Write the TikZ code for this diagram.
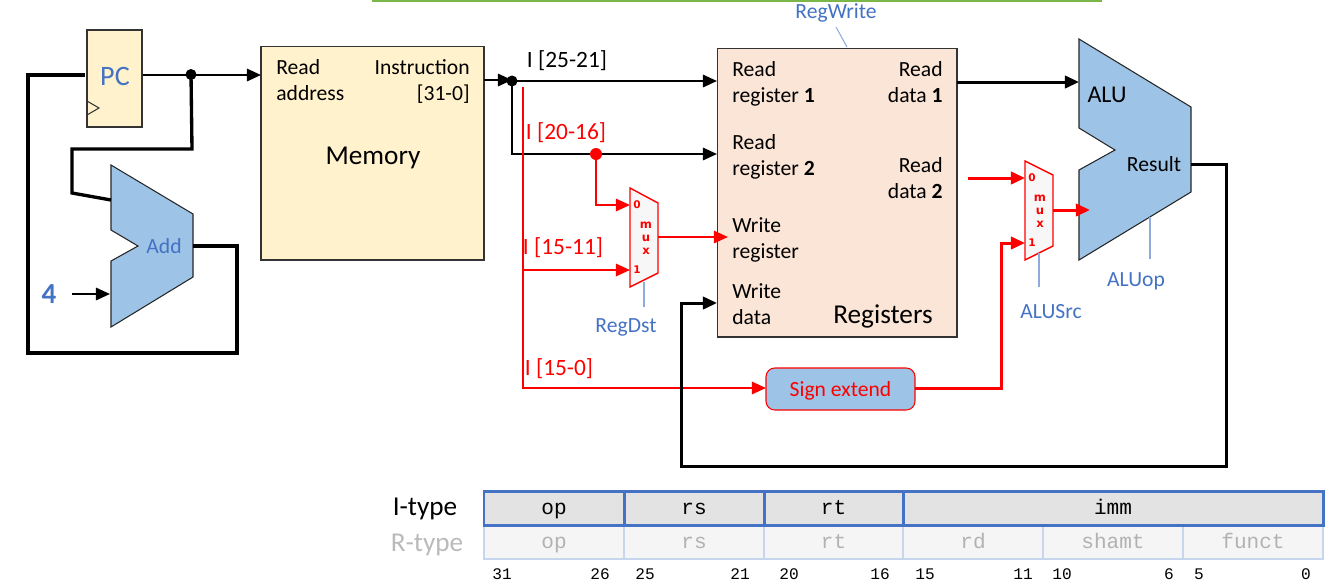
\documentclass[tikz,border=0pt]{standalone}
\usepackage{fontspec}
\setmainfont{Carlito}
\setmonofont{Liberation Mono}
\newfontfamily\muxfont{DejaVu Sans}
\usetikzlibrary{arrows.meta}

\definecolor{cYellow}{HTML}{FFF2CC}
\definecolor{cPeach}{HTML}{FBE5D6}
\definecolor{cBlue}{HTML}{9DC3E6}
\definecolor{cText}{HTML}{4472C4}
\definecolor{cCtrl}{HTML}{8FAADC}
\definecolor{cGreen}{HTML}{7AB648}

\tikzset{
	block/.style={draw=black!80, line width=.6pt, inner sep=0pt, outer sep=0pt},
	lbl/.style={inner sep=0pt, yshift=-1pt, text height=8.5pt, text depth=2.5pt, font=\fontsize{12.3}{13}\selectfont},
	ilbl/.style={lbl, font=\fontsize{13.3}{14}\selectfont},
	biglbl/.style={lbl, font=\fontsize{15.5}{16}\selectfont},
	ctrl/.style={lbl, text=cText},
	wire/.style={line width=1.3pt, -{Triangle[length=8pt,width=7pt]}},
	thickwire/.style={line width=2.1pt},
	redwire/.style={red, line width=1.2pt, -{Triangle[length=8pt,width=7pt]}},
	muxshape/.style={draw=red, line width=.8pt, fill=black!3},
	alushape/.style={draw=black!85, line width=.6pt, fill=cBlue},
	ctrlline/.style={cCtrl, line width=.6pt},
	itype/.style={draw=cText, line width=1.7pt, fill=black!11, inner sep=0pt, minimum height=.68cm, text height=10pt, text depth=2.5pt, font=\ttfamily\fontsize{12}{12}\selectfont},
	rtype/.style={draw=cText!30, line width=1.2pt, fill=black!4, text=black!30, inner sep=0pt, minimum height=.68cm, text height=10pt, text depth=2.5pt, font=\ttfamily\fontsize{12}{12}\selectfont},
	bitnum/.style={inner sep=0pt, text height=6pt, text depth=0pt, font=\ttfamily\fontsize{9.2}{10}\selectfont},
}

\begin{document}
\begin{tikzpicture}[x=0.02cm, y=-0.02cm]
	\useasboundingbox (0,0) rectangle (1339,586);

	%绿线
	\draw [cGreen, line width=2pt] (372,0) -- (1102,0);

	%模块
	\node [block, fill=cYellow, minimum width=1.1cm, minimum height=1.94cm] (PC) at (114.5,78.5) {};
	\node [text=cText, inner sep=0pt, font=\fontsize{16}{16}\selectfont] (PCT) at (115,76) {PC};
	\draw [block] (87,101) -- (99,108) -- (87,115);
	\node [block, fill=cYellow, minimum width=4.46cm, minimum height=4.28cm] (Mem) at (372.5,153) {};
	\node [block, fill=cPeach, minimum width=4.8cm, minimum height=5.78cm] (Reg) at (837,192.5) {};
	\node [block, draw=red, fill=cBlue, rounded corners=5pt, minimum width=2.98cm, minimum height=.84cm, text=red, text height=9.5pt, text depth=1pt, font=\fontsize{12.3}{13}\selectfont] (Sign) at (840.5,389) {Sign extend};

	%加法器与ALU
	\draw [alushape] (111,165) -- (193,214) -- (193,277) -- (111,327) -- (111,261) -- (138,246) -- (111,230) -- cycle;
	\draw [alushape] (1079,39) -- (1191,107) -- (1191,192) -- (1079,260) -- (1079,170) -- (1115,150) -- (1079,128) -- cycle;
	\draw [muxshape] (630,188) -- (658,203) -- (658,273) -- (630,287) -- cycle;
	\draw [muxshape] (1025,161) -- (1053,175) -- (1053,246) -- (1025,260) -- cycle;

	%端口
	\coordinate (PCin) at (85,75);
	\coordinate (PCout) at (143,75);
	\coordinate (MemA) at (261,75);
	\coordinate (MemO) at (484,80);
	\coordinate (Rr1) at (717,81);
	\coordinate (Rr2) at (717,154);
	\coordinate (Rw) at (728,237);
	\coordinate (Rd) at (717,303);
	\coordinate (Rq1) at (957,82);
	\coordinate (Rq2) at (968,178);
	\coordinate (AluA) at (1079,82);
	\coordinate (AluB) at (1090,210);
	\coordinate (AluO) at (1191,164);
	\coordinate (AddA) at (111,200);
	\coordinate (AddB) at (110,294);
	\coordinate (AddO) at (193,246);
	\coordinate (Four) at (72,294);
	\coordinate (MuxA) at (630,205);
	\coordinate (MuxB) at (630,270);
	\coordinate (MuxO) at (658,237);
	\coordinate (SrcA) at (1025,178);
	\coordinate (SrcB) at (1025,243);
	\coordinate (SrcO) at (1053,210);
	\coordinate (RedTop) at (523,87);
	\coordinate (RedBot) at (523,388);
	\coordinate (RedMux) at (523,270);
	\coordinate (SignI) at (766,388);
	\coordinate (SignO) at (915,388);

	%连线
	\fill (191,74.5) circle (5.5) coordinate (PCdot);
	\fill (512,81) circle (5.5) coordinate (Idot);
	\draw [thickwire, line join=miter] (PCin) -- (28,75) -- (28,353) -- (237,353) -- (237,246) -- (AddO);
	\draw [line width=1.9pt] (PCdot) -- (192,149) -- (72,149) -- (72,193) -- (AddA);
	\draw [wire] (PCout) -- (MemA);
	\draw [wire] (Four) -- (AddB);
	\draw [wire] (MemO) -- (Idot |- MemO);
	\draw [wire] (Idot) -- (Rr1);
	\draw [wire] (Idot) -- (512,154) -- (Rr2);
	\fill [red] (596,154) circle (6) coordinate (Rdot);
	\draw [redwire] (RedTop) -- (RedBot) -- (SignI);
	\draw [redwire] (RedMux) -- (MuxB);
	\draw [redwire] (Rdot) -- (596,205) -- (MuxA);
	\draw [redwire] (MuxO) -- (Rw);
	\draw [redwire, line width=1.7pt] (Rq2) -- (SrcA);
	\draw [redwire, line width=1.7pt] (SrcO) -- (AluB);
	\draw [redwire, line width=1.7pt] (SignO) -- (1001,388) -- (1001,243) -- (SrcB);
	\draw [wire, line width=1.7pt] (Rq1) -- (AluA);
	\draw [wire, line width=1.7pt] (AluO) -- (1226,164) -- (1226,466) -- (681,466) -- (681,303) -- (Rd);

	%文字
	\foreach \p/\x/\y/\t in {a/276/67/Read, b/276/93/address, c/732/69/Read, d/732/142/Read, e/732/225/Write, f/732/251/register, g/732/291/Write, h/732/317/data, i/732/95/{register \textbf{1}}, j/732/168/{register \textbf{2}}}
		\node [lbl, anchor=west] (L\p) at (\x,\y) {\t};
	\foreach \p/\x/\y/\t in {a/470/67/Instruction, b/470/93/{[31-0]}, c/943/69/Read, d/943/95/{data \textbf{1}}, e/943/165/Read, f/943/191/{data \textbf{2}}}
		\node [lbl, anchor=east] (R\p) at (\x,\y) {\t};
	\node [biglbl] (MemT) at (373,157) {Memory};
	\node [biglbl] (RegT) at (883,316) {Registers};
	\node [lbl, font=\fontsize{13.7}{14}\selectfont] (AluT) at (1107,95) {ALU};
	\node [lbl] (ResT) at (1154,164) {Result};
	\node [ctrl] (AddT) at (164,246) {Add};
	\node [inner sep=0pt, text=cText, font=\bfseries\fontsize{16.5}{17}\selectfont] (FourT) at (49,294) {4};
	\node [ilbl] (I25) at (567,60) {I [25-21]};
	\node [ilbl, text=red] (I20) at (566,132) {I [20-16]};
	\node [ilbl, text=red] (I15) at (563,247) {I [15-11]};
	\node [ilbl, text=red] (I0) at (559,368) {I [15-0]};

	%多路选择器文字
	\foreach \x/\y/\n in {646/238/a, 1040/211/b}
		\node [text=red, inner sep=0pt, align=center, font=\muxfont\bfseries\fontsize{6.6}{7.4}\selectfont] (mux\n) at (\x,\y) {m\\u\\x};
	\foreach \x/\y/\t in {637/205/0, 637/270/1, 1032/178/0, 1032/243/1}
		\node [text=red, inner sep=0pt, font=\muxfont\bfseries\fontsize{6}{7}\selectfont] at (\x,\y) {\t};

	%控制信号
	\node [ctrl] (RegWrite) at (836,11) {RegWrite};
	\node [ctrl] (RegDst) at (626,325) {RegDst};
	\node [ctrl] (ALUSrc) at (1051,311) {ALUSrc};
	\node [ctrl] (ALUop) at (1136,279) {ALUop};
	\draw [ctrlline] (836,27) -- (847,47);
	\draw [ctrlline] (644,282) -- (644,307);
	\draw [ctrlline] (1039,253) -- (1039,287);
	\draw [ctrlline] (1150,217) -- (1150,259);

	%指令格式
	\node [biglbl] (Itype) at (425,508) {I-type};
	\node [biglbl, text=black!27] (Rtype) at (427,544) {R-type};
	\foreach \n/\xa/\xb in {op/484/624, rs/624/764, rt/764/903, rd/903/1043, shamt/1043/1183, funct/1183/1323}
		\node [rtype, minimum width={(\xb-\xa)*0.02cm}] (R\n) at ({(\xa+\xb)/2},542) {\n};
	\foreach \n/\xa/\xb in {op/484/624, rs/624/764, rt/764/903, imm/903/1323}
		\node [itype, minimum width={(\xb-\xa)*0.02cm}] (I\n) at ({(\xa+\xb)/2},508) {\n};
	\foreach \x/\t in {502/31, 600/26, 645/25, 740/21, 789/20, 880/16, 925/15, 1023/11, 1062/10, 1169/6, 1199/5, 1306/0}
		\node [bitnum] at (\x,574) {\t};

\end{tikzpicture}
\end{document}
